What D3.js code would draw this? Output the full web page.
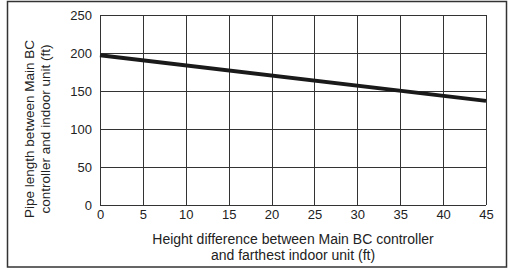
<!DOCTYPE html>
<html>
<head>
<meta charset="utf-8">
<script src="https://cdn.jsdelivr.net/npm/d3@7"></script>
<style>
  html, body { margin: 0; padding: 0; background: #fff; }
  svg text { font-family: "Liberation Sans", Arial, sans-serif; fill: #222; }
</style>
</head>
<body>
<div id="chart"></div>
<script>
// 数据
const heightDiff = [0, 45];
const pipeLength = [197, 137];
const xTicks = [0, 5, 10, 15, 20, 25, 30, 35, 40, 45];
const yTicks = [0, 50, 100, 150, 200, 250];
const xTitle = ['Height difference between Main BC controller', 'and farthest indoor unit (ft)'];
const yTitle = ['Pipe length between Main BC', 'controller and indoor unit (ft)'];

const W = 508, H = 270;
const margin = { top: 15, right: 22, bottom: 65, left: 100 };
const width = 486 - margin.left;
const height = 205 - margin.top;

const svg = d3.select('#chart').append('svg')
    .attr('width', W)
    .attr('height', H);

// 外框
svg.append('rect')
    .attr('x', 7.5).attr('y', 1.5)
    .attr('width', 499).attr('height', 265.5)
    .attr('fill', 'none')
    .attr('stroke', '#333')
    .attr('stroke-width', 1.5);

const g = svg.append('g')
    .attr('transform', `translate(${margin.left},${margin.top})`);

const x = d3.scaleLinear().domain([0, 45]).range([0, width]);
const y = d3.scaleLinear().domain([0, 250]).range([height, 0]);

// 网格
g.append('g')
    .selectAll('line')
    .data(xTicks)
    .join('line')
    .attr('x1', d => Math.round(x(d)) + 0.5)
    .attr('x2', d => Math.round(x(d)) + 0.5)
    .attr('y1', 0)
    .attr('y2', height)
    .attr('stroke', '#333')
    .attr('stroke-width', 1);

g.append('g')
    .selectAll('line')
    .data(yTicks)
    .join('line')
    .attr('x1', 0)
    .attr('x2', width)
    .attr('y1', d => Math.round(y(d)) + 0.5)
    .attr('y2', d => Math.round(y(d)) + 0.5)
    .attr('stroke', '#333')
    .attr('stroke-width', 1);

// 坐标轴
const xAxis = g.append('g')
    .attr('transform', `translate(0,${height})`)
    .call(d3.axisBottom(x).tickValues(xTicks).tickSize(0).tickPadding(5));
const yAxis = g.append('g')
    .call(d3.axisLeft(y).tickValues(yTicks).tickSize(0).tickPadding(8));

[xAxis, yAxis].forEach(a => {
    a.select('.domain').remove();
    a.selectAll('text')
        .style('font-size', '13px')
        .style('font-family', '"Liberation Sans", Arial, sans-serif')
        .attr('fill', '#222');
});

// 数据线
const pts = heightDiff.map((d, i) => [d, pipeLength[i]]);
g.append('path')
    .datum(pts)
    .attr('fill', 'none')
    .attr('stroke', '#1a1a1a')
    .attr('stroke-width', 4)
    .attr('d', d3.line().x(d => x(d[0])).y(d => y(d[1])));

// 标题
svg.append('g')
    .selectAll('text')
    .data(xTitle)
    .join('text')
    .attr('x', margin.left + width / 2)
    .attr('y', (d, i) => 244 + i * 16)
    .attr('text-anchor', 'middle')
    .style('font-size', '14px')
    .text(d => d);

svg.append('g')
    .selectAll('text')
    .data(yTitle)
    .join('text')
    .attr('transform', (d, i) => `translate(${34 + i * 16},129) rotate(-90)`)
    .attr('text-anchor', 'middle')
    .style('font-size', '13.5px')
    .text(d => d);
</script>
</body>
</html>
